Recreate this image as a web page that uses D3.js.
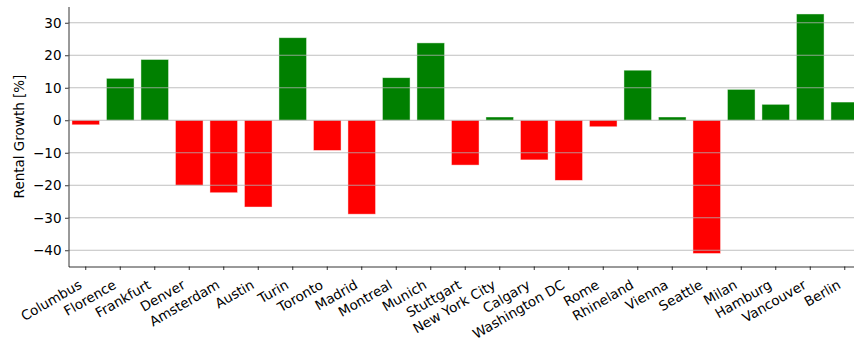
<!DOCTYPE html>
<html>
<head>
<meta charset="utf-8">
<script src="https://cdn.jsdelivr.net/npm/d3@7"></script>
<style>
  body { margin: 0; background: #fff; }
  svg { display: block; font-family: "DejaVu Sans", sans-serif; }
</style>
</head>
<body>
<svg id="chart"></svg>
<script>
// city order as in the figure
const cities = ['Columbus', 'Florence', 'Frankfurt', 'Denver', 'Amsterdam', 'Austin', 'Turin',
    'Toronto', 'Madrid', 'Montreal', 'Munich', 'Stuttgart', 'New York City', 'Calgary',
    'Washington DC', 'Rome', 'Rhineland', 'Vienna', 'Seattle', 'Milan', 'Hamburg',
    'Vancouver', 'Berlin']
const growth = [-1.4, 12.9, 18.7, -20.0, -22.3, -26.7, 25.4,
    -9.3, -28.9, 13.1, 23.8, -13.8, 1.0, -12.2,
    -18.5, -2.0, 15.4, 1.0, -41.0, 9.5, 4.9,
    32.7, 5.6]
const yTicks = [-40, -30, -20, -10, 0, 10, 20, 30]
const yLabel = 'Rental Growth [%]'

const width = 854, height = 343
const plotLeft = 68.5, plotTop = 6.5, plotBottom = 266.5
const plotRight = 862 // axes run past the right edge of the picture
const fontSize = '13.5px'

let svg = d3.select('#chart').attr('width', width).attr('height', height)

let scale_x = d3.scaleBand()
    .domain(cities)
    .range([plotLeft, plotRight])
    .paddingInner(0.2)
    .paddingOuter(0.1)

let scale_y = d3.scaleLinear()
    .domain([-45, 35])
    .range([plotBottom, plotTop])

// bars
svg.append('g')
    .selectAll('rect')
    .data(growth)
    .join('rect')
    .attr('x', (d, i) => scale_x(cities[i]))
    .attr('width', scale_x.bandwidth())
    .attr('y', d => scale_y(Math.max(0, d)))
    .attr('height', d => Math.abs(scale_y(d) - scale_y(0)))
    .attr('fill', d => d >= 0 ? '#008000' : '#ff0000')
    .attr('stroke', 'rgba(255,255,255,0.55)')
    .attr('stroke-width', 0.8)

// grid sits above the bars (matplotlib default)
svg.append('g')
    .selectAll('line')
    .data(yTicks)
    .join('line')
    .attr('x1', plotLeft)
    .attr('x2', plotRight)
    .attr('y1', d => scale_y(d))
    .attr('y2', d => scale_y(d))
    .attr('stroke', '#b0b0b0')
    .attr('stroke-width', 0.8)

// y axis
let yAxis = svg.append('g')
    .attr('transform', `translate(${plotLeft},0)`)
    .call(d3.axisLeft(scale_y).tickValues(yTicks).tickSize(3.5).tickPadding(3.5).tickSizeOuter(0))
yAxis.select('.domain').attr('stroke', '#000').attr('stroke-width', 0.8)
yAxis.selectAll('.tick line').attr('stroke', '#000').attr('stroke-width', 0.8)
yAxis.selectAll('.tick text')
    .attr('fill', '#000')
    .style('font-size', fontSize)
    .style('font-family', '"DejaVu Sans", sans-serif')

// x axis, labels rotated 30 deg and right-aligned on the tick
let xAxis = svg.append('g')
    .attr('transform', `translate(0,${plotBottom})`)
    .call(d3.axisBottom(scale_x).tickSize(3.5).tickSizeOuter(0))
xAxis.select('.domain').attr('stroke', '#000').attr('stroke-width', 0.8)
xAxis.selectAll('.tick line').attr('stroke', '#000').attr('stroke-width', 0.8)
xAxis.selectAll('.tick text')
    .attr('fill', '#000')
    .style('font-size', fontSize)
    .style('font-family', '"DejaVu Sans", sans-serif')
    .attr('text-anchor', 'end')
    .attr('dy', 0)
    .attr('y', 0)
    .attr('x', 0)
    .attr('transform', 'translate(-3,21) rotate(-30)')

// y label
svg.append('text')
    .attr('transform', `translate(24,${(plotTop + plotBottom) / 2}) rotate(-90)`)
    .attr('text-anchor', 'middle')
    .style('font-size', fontSize)
    .attr('fill', '#000')
    .text(yLabel)
</script>
</body>
</html>
